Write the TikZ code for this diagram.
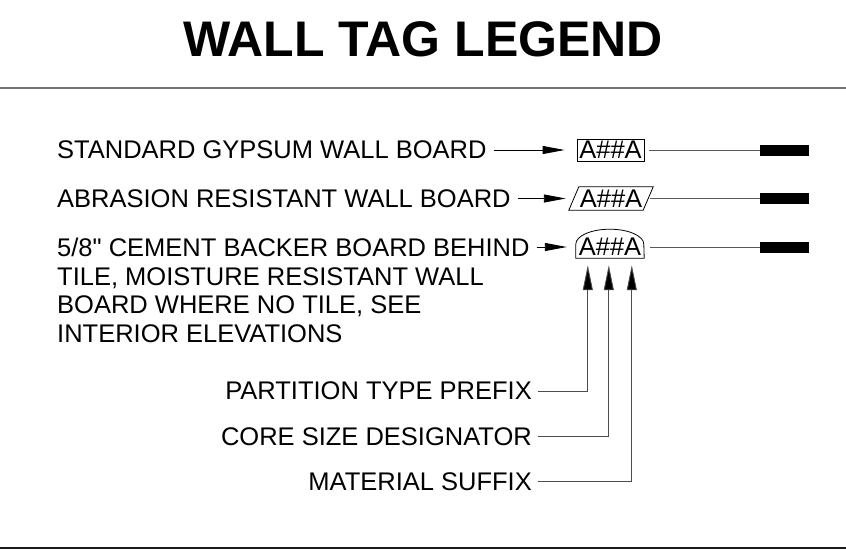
\documentclass[tikz,border=0pt]{standalone}
\usepackage{fontspec}
\setmainfont{Liberation Sans}
\newfontfamily\plainfont{Liberation Sans}
\usetikzlibrary{arrows.meta,calc}
\begin{document}
\begin{tikzpicture}[x=1pt,y=-1pt,
  every node/.style={font=\fontsize{25.5}{28.7}\selectfont, inner sep=0pt},
  titletext/.style={font=\fontsize{50}{51}\selectfont\bfseries},
  conn/.style={line width=0.9pt, draw=black!65},
  harrow/.style={line width=0.9pt, draw=black, -{Triangle[length=22pt,width=8pt]}},
  varrow/.style={line width=0.9pt, draw=black!70, -{Triangle[length=25pt,width=10pt,fill=black]}},
  tagbox/.style={minimum width=67pt, minimum height=22pt},
  tagline/.style={line width=0.8pt, draw=black},
  barbox/.style={fill=black, minimum width=49pt, minimum height=11pt}]
\useasboundingbox (0,0) rectangle (846,549);

% title and rules
\node[titletext] (title) at (423,39.5) {WALL TAG LEGEND};
\draw[line width=1.5pt, black!55] (0,88) -- (846,88);
\draw[line width=1.5pt, black!90] (0,548) -- (846,548);

% description texts
\node[anchor=west] (t1) at (57,150) {STANDARD GYPSUM WALL BOARD};
\node[anchor=west] (t2) at (57,198.5) {ABRASION RESISTANT WALL BOARD};
\node[anchor=west] (t3) at (57,247) {5/8{\plainfont"} CEMENT BACKER BOARD BEHIND};
\node[anchor=base west] (t3b) at (57,285) {\parbox[t]{560pt}{\raggedright\fontsize{25.5}{28.7}\selectfont TILE, MOISTURE RESISTANT WALL\\ BOARD WHERE NO TILE, SEE\\ INTERIOR ELEVATIONS}};

% tags
\node[tagbox, draw, line width=0.8pt] (tag1) at (610.5,150) {A\#\#A};
\node[tagbox, minimum width=74pt, minimum height=23pt] (tag2) at (611,198.5) {A\#\#A};
\draw[tagline] ($(tag2.south west)+(-5,0)$) -- ($(tag2.north west)+(5,0)$)
  -- ($(tag2.north east)+(5,0)$) -- ($(tag2.south east)+(-5,0)$) -- cycle;
\node[tagbox, minimum width=68pt] (tag3) at (610,247) {A\#\#A};
\draw[tagline] (tag3.south west) -- ++(0,-14)
  arc[start angle=180, end angle=0, x radius=34pt, y radius=15pt]
  -- (tag3.south east) -- cycle;

% bars
\node[barbox] (bar1) at (784.5,150) {};
\node[barbox] (bar2) at (784.5,198.5) {};
\node[barbox] (bar3) at (784.5,247) {};

% arrows from descriptions to tags
\draw[harrow, shorten <=7pt, shorten >=12pt] (t1.east) -- (tag1.west);
\draw[harrow, shorten <=7pt, shorten >=8pt] (t2.east) -- (tag2.west);
\draw[harrow, shorten <=7pt, shorten >=9pt] (t3.east) -- (tag3.west);

% lines from tags to bars
\draw[conn, shorten <=5pt] (tag1.east) -- (bar1.west);
\draw[conn, shorten <=2pt] (tag2.east) -- (bar2.west);
\draw[conn, shorten <=6pt] (tag3.east) -- (bar3.west);

% lower labels
\node[anchor=east] (lab1) at (532,391) {PARTITION TYPE PREFIX};
\node[anchor=east] (lab2) at (532,436.5) {CORE SIZE DESIGNATOR};
\node[anchor=east] (lab3) at (532,481.5) {MATERIAL SUFFIX};

\coordinate (p1) at ([xshift=12pt]tag3.south west);
\coordinate (p2) at ([xshift=33pt]tag3.south west);
\coordinate (p3) at ([xshift=56pt]tag3.south west);

\draw[varrow, shorten <=6pt, shorten >=7pt] (lab1.east) -| (p1);
\draw[varrow, shorten <=6pt, shorten >=7pt] (lab2.east) -| (p2);
\draw[varrow, shorten <=6pt, shorten >=7pt] (lab3.east) -| (p3);
\end{tikzpicture}
\end{document}
